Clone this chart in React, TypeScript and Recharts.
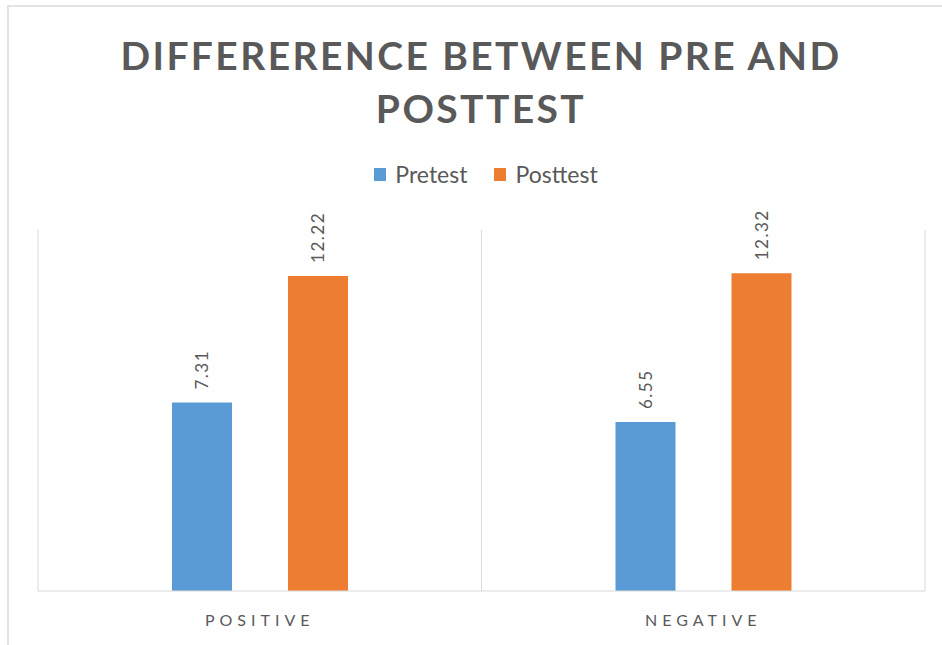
import { BarChart, Bar, XAxis, YAxis, CartesianGrid, LabelList } from 'recharts';

const categories = ['POSITIVE', 'NEGATIVE'];
const pretest = [7.31, 6.55];
const posttest = [12.22, 12.32];
const yDomain = [0, 14];

const series = [
  { key: 'pretest', name: 'Pretest', color: '#5B9BD5' },
  { key: 'posttest', name: 'Posttest', color: '#ED7D31' },
];

const data = categories.map((c, i) => ({ name: c, pretest: pretest[i], posttest: posttest[i] }));

const TEXT = '#595959';
const FONT = 'Lato, "Open Sans", sans-serif';

const RotatedLabel = (props: any) => {
  const { x, y, width, value } = props;
  const cx = x + width / 2;
  const cy = y - 13;
  return (
    <text
      x={cx}
      y={cy}
      transform={`rotate(-90 ${cx} ${cy})`}
      textAnchor="start"
      dominantBaseline="central"
      fill={TEXT}
      fontSize={17}
      fontFamily={FONT}
      letterSpacing={1.5}
    >
      {value.toFixed(2)}
    </text>
  );
};

export default function App() {
  return (
    <div style={{ position: 'absolute', top: 0, left: 0, width: 942, height: 645, background: '#fff', overflow: 'hidden', fontFamily: FONT }}>
      <div style={{ position: 'absolute', left: 7, top: 5, width: 960, height: 660, border: '2px solid #e3e3e3' }} />
      <div
        style={{
          position: 'absolute',
          top: 29,
          left: 0,
          width: 962,
          textAlign: 'center',
          color: TEXT,
          fontWeight: 700,
          fontSize: 39,
          letterSpacing: 2.4,
          lineHeight: '53px',
        }}
      >
        DIFFERERENCE BETWEEN PRE AND
        <br />
        POSTTEST
      </div>
      <div style={{ position: 'absolute', top: 160, left: 0, width: 972, display: 'flex', justifyContent: 'center', gap: 27 }}>
        {series.map((s) => (
          <div key={s.key} style={{ display: 'flex', alignItems: 'center', color: TEXT, fontSize: 23 }}>
            <span style={{ display: 'inline-block', width: 12, height: 13, background: s.color, marginRight: 9 }} />
            {s.name}
          </div>
        ))}
      </div>
      <div style={{ position: 'absolute', top: 0, left: 0 }}>
        <BarChart
          width={942}
          height={645}
          data={data}
          margin={{ top: 230, right: 17, bottom: 24, left: 38 }}
          barSize={60}
          barGap={56}
        >
          <CartesianGrid
            horizontal={false}
            stroke="#d9d9d9"
            verticalCoordinatesGenerator={({ offset }: any) =>
              Array.from({ length: categories.length + 1 }, (_, i) => offset.left + (i * offset.width) / categories.length)
            }
          />
          <XAxis
            dataKey="name"
            height={30}
            axisLine={{ stroke: '#d9d9d9' }}
            tickLine={false}
            tick={{ fill: TEXT, fontSize: 16, fontFamily: FONT, letterSpacing: 5 }}
            tickMargin={18}
          />
          <YAxis hide domain={yDomain} />
          {series.map((s) => (
            <Bar key={s.key} dataKey={s.key} name={s.name} fill={s.color} isAnimationActive={false}>
              <LabelList dataKey={s.key} content={RotatedLabel} />
            </Bar>
          ))}
        </BarChart>
      </div>
    </div>
  );
}
